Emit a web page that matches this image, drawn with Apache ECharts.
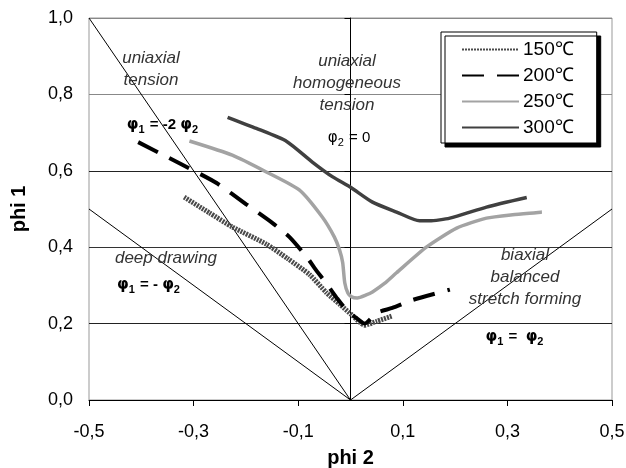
<!DOCTYPE html>
<html>
<head>
<meta charset="utf-8">
<script src="https://cdn.jsdelivr.net/npm/echarts@6/dist/echarts.min.js"></script>
<style>
    html, body { margin: 0; padding: 0; background: #fff; }
    #chart { width: 626px; height: 468px; }
</style>
</head>
<body>
<div id="chart"></div>
<script>
// curves (phi 2, phi 1)
var x150 = [-0.318, -0.27, -0.226, -0.161, -0.12, -0.078, -0.046, -0.02, 0.004, 0.027, 0.05, 0.08];
var y150 = [0.531, 0.49, 0.453, 0.408, 0.37, 0.328, 0.281, 0.25, 0.221, 0.196, 0.206, 0.22];

var x200 = [-0.406, -0.35, -0.295, -0.256, -0.2, -0.149, -0.117, -0.084, -0.069, -0.044, -0.025, -0.008, 0.011, 0.027, 0.05, 0.08, 0.119, 0.19];
var y200 = [0.675, 0.636, 0.597, 0.568, 0.513, 0.463, 0.427, 0.375, 0.346, 0.301, 0.265, 0.236, 0.215, 0.2, 0.228, 0.241, 0.262, 0.289];

var x250 = [-0.308, -0.226, -0.161, -0.098, -0.054, -0.031, -0.021, -0.015, -0.011, -0.005, 0.002, 0.013, 0.03, 0.042, 0.065, 0.088, 0.145, 0.203, 0.26, 0.31, 0.366];
var y250 = [0.678, 0.641, 0.597, 0.55, 0.479, 0.427, 0.393, 0.36, 0.307, 0.28, 0.27, 0.267, 0.275, 0.283, 0.305, 0.333, 0.4, 0.45, 0.476, 0.485, 0.492];

var x300 = [-0.235, -0.18, -0.122, -0.073, -0.034, 0, 0.042, 0.088, 0.132, 0.151, 0.19, 0.26, 0.337];
var y300 = [0.74, 0.711, 0.677, 0.623, 0.584, 0.557, 0.518, 0.492, 0.469, 0.469, 0.476, 0.505, 0.53];

// straight strain-path lines through the origin
var pathUniaxial = [[-0.5, 1.0], [0, 0]];
var pathDeep = [[-0.5, 0.5], [0, 0]];
var pathBiaxial = [[0, 0], [0.5, 0.5]];
var pathPlane = [[0, 0], [0, 1.0]];

var names = ['150℃', '200℃', '250℃', '300℃'];

function pairs(xs, ys) {
    var out = [];
    for (var i = 0; i < xs.length; i++) {
        out.push([xs[i], ys[i]]);
    }
    return out;
}

function comma(v) {
    return v.toFixed(1).replace('.', ',');
}

function refLine(data) {
    return {
        type: 'line',
        data: data,
        symbol: 'none',
        silent: true,
        lineStyle: { color: '#000', width: 1 },
        z: 1
    };
}

var italic = {
    fontFamily: 'Liberation Sans',
    fontStyle: 'italic',
    fontSize: 17,
    fill: '#333',
    align: 'center',
    verticalAlign: 'middle',
    lineHeight: 22
};

// phi with a lowered index digit
function greekStyle(weight) {
    return {
        fontFamily: 'Liberation Sans',
        fontWeight: weight,
        fill: '#000',
        align: 'center',
        verticalAlign: 'middle',
        rich: {
            p: { fontFamily: 'DejaVu Sans', fontWeight: weight, fontSize: 15, lineHeight: 20, verticalAlign: 'middle', fill: '#000' },
            s: { fontFamily: 'Liberation Sans', fontWeight: weight, fontSize: 11, lineHeight: 20, verticalAlign: 'bottom', padding: [0, 1, 0, 0], fill: '#000' },
            t: { fontFamily: 'Liberation Sans', fontWeight: weight, fontSize: 15, lineHeight: 20, verticalAlign: 'middle', fill: '#000' }
        }
    };
}

function label(x, y, text, base) {
    return { type: 'text', x: x, y: y, z: 50, style: Object.assign({ text: text }, base) };
}

var chart = echarts.init(document.getElementById('chart'));
chart.setOption({
    animation: false,
    backgroundColor: '#fff',
    grid: {
        left: 89, right: 14, top: 18, bottom: 68,
        outerBoundsMode: 'none',
        show: true, borderColor: '#999', borderWidth: 1
    },
    legend: {
        data: names,
        orient: 'vertical',
        left: 441,
        top: 32,
        itemWidth: 57,
        itemHeight: 14,
        itemGap: 7,
        padding: [8, 23, 6, 20],
        backgroundColor: '#fff',
        borderColor: '#000',
        borderWidth: 1,
        shadowColor: '#000',
        shadowOffsetX: 4,
        shadowOffsetY: 4,
        shadowBlur: 0,
        itemStyle: { opacity: 0 },
        textStyle: { fontFamily: 'Liberation Sans', fontSize: 19, color: '#000', padding: [0, 0, 0, -1] }
    },
    xAxis: {
        type: 'value',
        min: -0.5,
        max: 0.5,
        interval: 0.2,
        name: 'phi 2',
        nameLocation: 'middle',
        nameGap: 48,
        nameTextStyle: { fontFamily: 'Liberation Sans', fontWeight: 'bold', fontSize: 20, color: '#000' },
        axisLine: { show: true, onZero: false, lineStyle: { color: '#000', width: 1 } },
        axisTick: { show: true, inside: false, length: 6, lineStyle: { color: '#000' } },
        axisLabel: { formatter: comma, margin: 23, fontFamily: 'Liberation Sans', fontSize: 18, color: '#000' },
        splitLine: { show: false }
    },
    yAxis: {
        type: 'value',
        min: 0,
        max: 1.0,
        interval: 0.2,
        name: 'phi 1',
        nameLocation: 'middle',
        nameGap: 60,
        nameTextStyle: { fontFamily: 'Liberation Sans', fontWeight: 'bold', fontSize: 20, color: '#000' },
        axisLine: { show: true, lineStyle: { color: '#000', width: 1 } },
        axisTick: { show: true, inside: false, length: 6, lineStyle: { color: '#000' } },
        axisLabel: { formatter: comma, margin: 16, fontFamily: 'Liberation Sans', fontSize: 18, color: '#000' },
        splitLine: { show: true, lineStyle: { color: ['#000', '#222', '#333', '#222', '#888', '#888'], width: 1 } }
    },
    graphic: [
        label(151, 69, 'uniaxial\ntension', italic),
        label(347, 83, 'uniaxial\nhomogeneous\ntension', italic),
        label(163, 125, '{p|φ}{s|1}{t| = -2 }{p|φ}{s|2}', greekStyle('bold')),
        label(349, 138, '{p|φ}{s|2}{t| = 0}', greekStyle('normal')),
        label(166, 258, 'deep drawing', italic),
        label(149, 285, '{p|φ}{s|1}{t| = - }{p|φ}{s|2}', greekStyle('bold')),
        label(525, 277, 'biaxial\nbalanced\nstretch forming', italic),
        label(515, 337, '{p|φ}{s|1}{t| =  }{p|φ}{s|2}', greekStyle('bold'))
    ],
    series: [
        refLine(pathUniaxial),
        refLine(pathDeep),
        refLine(pathBiaxial),
        refLine(pathPlane),
        {
            name: names[0],
            type: 'line',
            data: pairs(x150, y150),
            symbol: 'none',
            smooth: 0.2,
            lineStyle: { color: '#4a4a4a', width: 5, type: [2, 1] },
            itemStyle: { color: '#4a4a4a' },
            z: 5
        },
        {
            name: names[1],
            type: 'line',
            data: pairs(x200, y200),
            symbol: 'none',
            smooth: 0.2,
            lineStyle: { color: '#000', width: 4, type: [22, 13] },
            itemStyle: { color: '#000' },
            z: 5
        },
        {
            name: names[2],
            type: 'line',
            data: pairs(x250, y250),
            symbol: 'none',
            smooth: 0.2,
            lineStyle: { color: '#a3a3a3', width: 3.5 },
            itemStyle: { color: '#a3a3a3' },
            z: 5
        },
        {
            name: names[3],
            type: 'line',
            data: pairs(x300, y300),
            symbol: 'none',
            smooth: 0.2,
            lineStyle: { color: '#404040', width: 3.5 },
            itemStyle: { color: '#404040' },
            z: 5
        }
    ]
});
</script>
</body>
</html>
